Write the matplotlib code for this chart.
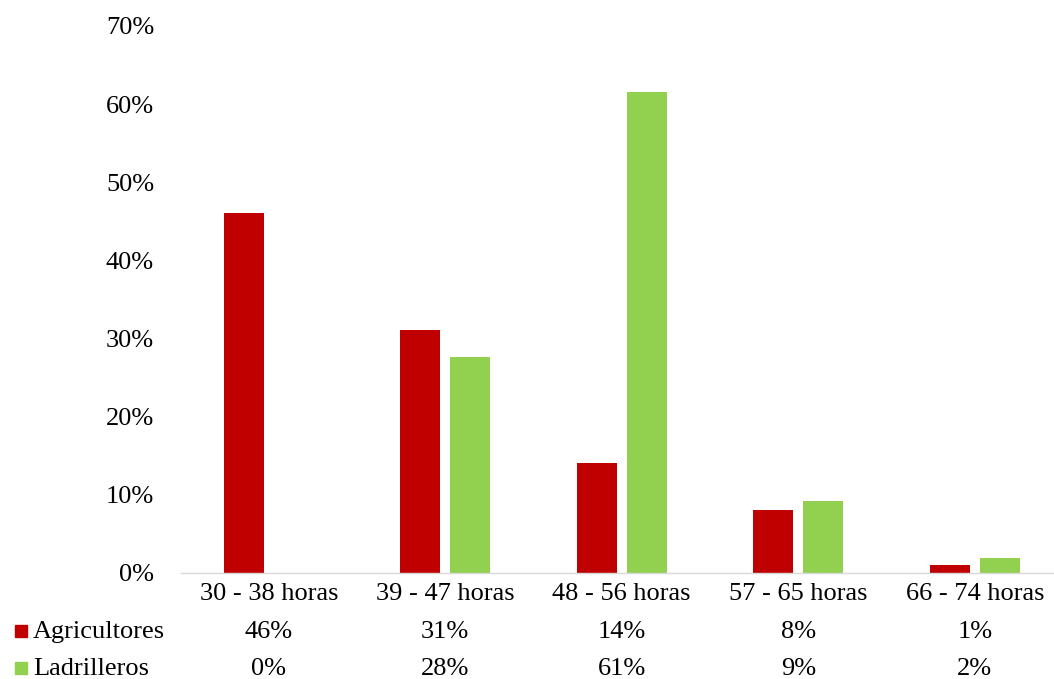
import matplotlib
matplotlib.use("Agg")
import matplotlib.pyplot as plt
import matplotlib.transforms as mtransforms
from matplotlib.patches import Rectangle

categories = ["30 - 38 horas", "39 - 47 horas", "48 - 56 horas", "57 - 65 horas", "66 - 74 horas"]
series_names = ["Agricultores", "Ladrilleros"]
agricultores = [46.0, 31.0, 14.0, 8.0, 1.0]
ladrilleros = [0.0, 27.6, 61.6, 9.2, 1.9]
agri_labels = ["46%", "31%", "14%", "8%", "1%"]
ladr_labels = ["0%", "28%", "61%", "9%", "2%"]
yticks = [0, 10, 20, 30, 40, 50, 60, 70]

RED = "#C00000"
GREEN = "#92D050"
FS = 19

plt.rcParams['font.family'] = ['Liberation Serif', 'DejaVu Serif']

W, H = 1054, 679
fig = plt.figure(figsize=(W / 100, H / 100), dpi=100)
ax = fig.add_axes([180.5 / W, 106.5 / H, 882.5 / W, 546.5 / H])

x = list(range(len(categories)))
bw = 0.2266
off = 0.1416
ax.bar([i - off for i in x], agricultores, width=bw, color=RED)
ax.bar([i + off for i in x], ladrilleros, width=bw, color=GREEN)

ax.set_xlim(-0.5, len(categories) - 0.5)
ax.set_ylim(0, 70)
ax.set_yticks(yticks)
ax.set_yticklabels([f"{v}%" for v in yticks], fontsize=FS)
ax.tick_params(axis='y', length=0, pad=19)
ax.set_xticks([])
for s in ["top", "right", "left"]:
    ax.spines[s].set_visible(False)
ax.spines["bottom"].set_color("#D9D9D9")
ax.spines["bottom"].set_linewidth(1.0)

trans = mtransforms.blended_transform_factory(ax.transData, fig.transFigure)
y_cat = 1 - 594 / H
y_r1 = 1 - 632 / H
y_r2 = 1 - 669 / H
for i, c in enumerate(categories):
    fig.text(i, y_cat, c, transform=trans, ha="center", va="center", fontsize=FS)
    fig.text(i, y_r1, agri_labels[i], transform=trans, ha="center", va="center", fontsize=FS)
    fig.text(i, y_r2, ladr_labels[i], transform=trans, ha="center", va="center", fontsize=FS)

for yy, name, col in [(631, series_names[0], RED), (668, series_names[1], GREEN)]:
    fig.patches.append(Rectangle((15 / W, 1 - (yy + 6) / H), 12 / W, 12 / H,
                                 transform=fig.transFigure, color=col))
    fig.text(33 / W, 1 - (yy + 1) / H, name, ha="left", va="center", fontsize=FS)

fig.savefig("out.png", dpi=100)
